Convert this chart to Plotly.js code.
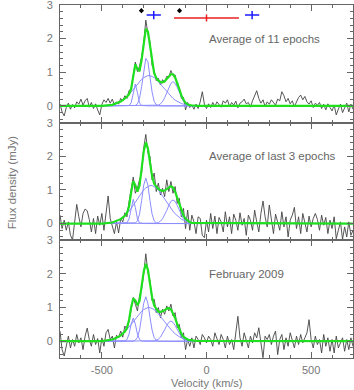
<!DOCTYPE html>
<html>
<head>
<meta charset="utf-8">
<script src="https://cdn.plot.ly/plotly-3.0.1.min.js"></script>
<style>
  html, body { margin: 0; padding: 0; background: #fff; }
  #myGraph { width: 354px; height: 390px; }
</style>
</head>
<body>
<div id="myGraph"></div>
<script>
"use strict";

// channel grid of the spectra (km/s)
var chan0 = -700;
var chanWidth = 10;

// observed spectra (mJy), one value per channel from -700 to +700 km/s
var fluxAll = [
  0.06, -0.18, -0.30, -0.05, 0.08, -0.10, 0.04, -0.06, 0.12, 0.05,
  0.20, 0.02, 0.15, 0.22, -0.04, 0.10, -0.08, 0.06, -0.12, -0.27,
  0.04, 0.18, 0.10, 0.22, 0.08, 0.20, 0.02, 0.12, 0.05, 0.22,
  0.15, 0.30, 0.22, 0.45, 0.52, 0.95, 1.30, 1.02, 1.18, 1.45,
  1.85, 2.55, 2.15, 1.90, 1.20, 1.05, 0.75, 0.82, 0.62, 0.78,
  0.70, 0.88, 0.85, 1.05, 0.90, 0.92, 0.60, 0.55, 0.22, 0.25,
  -0.12, 0.10, -0.05, 0.02, -0.10, 0.05, -0.08, 0.12, 0.42, 0.05,
  -0.08, 0.06, -0.05, 0.10, -0.02, 0.12, 0.05, -0.04, 0.15, 0.08,
  0.18, -0.02, 0.10, 0.02, 0.14, -0.06, 0.08, 0.12, 0.20, 0.06,
  0.10, -0.04, 0.15, 0.28, 0.45, 0.22, 0.08, 0.18, -0.02, 0.12,
  0.05, 0.18, 0.10, 0.02, 0.20, 0.15, 0.42, 0.30, 0.12, 0.22,
  0.06, 0.15, -0.02, 0.10, 0.25, 0.32, 0.18, 0.28, 0.12, 0.05,
  0.15, -0.05, 0.08, 0.02, 0.10, -0.08, 0.05, -0.12, 0.06, -0.05,
  -0.15, 0.02, -0.27, -0.10, 0.05, -0.20, -0.05, 0.08, -0.18, 0.05,
  -0.10
];
var fluxLast3 = [
  0.25, -0.15, 0.10, -0.20, 0.05, -0.35, -0.48, 0.10, 0.57, 0.20,
  -0.10, 0.30, 0.43, 0.38, 0.12, -0.25, 0.15, -0.30, 0.22, -0.05,
  0.30, -0.20, 0.35, 0.82, 0.15, -0.10, -0.30, 0.05, -0.28, 0.15,
  0.05, 0.32, 0.20, 0.65, 1.00, 1.38, 0.90, 1.05, 1.30, 1.50,
  2.25, 2.65, 2.10, 2.00, 1.30, 1.50, 0.95, 1.20, 0.85, 1.05,
  0.80, 1.30, 0.95, 1.25, 0.90, 1.10, 0.60, 0.75, 0.20, 0.45,
  -0.15, 0.40, -0.20, 0.25, 0.05, -0.30, 0.20, 0.15, -0.35, -0.42,
  0.10, -0.25, 0.30, -0.15, 0.22, -0.30, 0.18, 0.05, -0.25, 0.35,
  -0.10, 0.20, -0.30, 0.28, 0.10, -0.20, 0.32, -0.05, 0.15, -0.35,
  0.25, 0.10, -0.20, 0.40, 0.05, -0.25, 0.30, 0.67, 0.20, -0.10,
  0.55, 0.15, -0.30, 0.28, 0.05, -0.20, 0.35, -0.10, 0.20, -0.40,
  0.10, 0.25, 0.48, -0.15, 0.20, -0.30, 0.30, 0.05, -0.25, 0.22,
  -0.10, 0.15, 0.30, 0.12, -0.20, 0.25, -0.05, 0.18, -0.30, 0.10,
  -0.15, 0.20, -0.45, -0.20, 0.05, -0.47, -0.10, -0.40, 0.05, -0.35,
  -0.20
];
var fluxFeb09 = [
  0.30, -0.25, -0.44, -0.10, 0.15, -0.20, 0.05, -0.15, 0.20, -0.05,
  0.10, -0.25, 0.15, 0.39, 0.05, -0.15, 0.20, -0.10, 0.08, -0.35,
  0.10, -0.15, 0.25, 0.35, 0.05, 0.15, -0.20, 0.18, 0.10, 0.30,
  0.12, 0.45, 0.35, 0.60, 0.95, 1.30, 1.10, 0.90, 1.35, 1.55,
  2.00, 2.60, 2.05, 1.80, 1.20, 1.25, 0.85, 1.00, 0.70, 0.95,
  0.80, 1.05, 0.90, 1.10, 0.75, 0.85, 0.40, 0.50, 0.10, 0.25,
  -0.25, 0.05, -0.15, 0.10, -0.20, 0.15, 0.05, -0.10, 0.20, 0.10,
  -0.05, 0.15, 0.05, -0.15, 0.25, 0.10, -0.10, 0.20, 0.05, -0.20,
  0.15, -0.10, 0.05, -0.25, 0.20, 0.74, 0.10, -0.15, 0.25, 0.05,
  -0.20, 0.15, -0.05, 0.25, 0.10, 0.40, -0.10, -0.49, 0.15, 0.05,
  0.20, -0.10, 0.15, 0.30, -0.40, 0.05, 0.20, -0.25, 0.10, -0.15,
  0.25, 0.05, -0.20, 0.15, -0.10, 0.20, -0.05, 0.10, 0.25, 0.64,
  0.05, -0.20, 0.15, -0.10, 0.05, -0.35, 0.20, -0.15, 0.10, -0.30,
  0.05, -0.35, 0.15, -0.20, -0.05, 0.10, -0.30, 0.05, -0.25, 0.10,
  -0.15
];

// velocity grid of the gaussian fits (km/s)
var fitVel = [-700, -500,
  -450, -440, -430, -420, -410, -400, -390, -380, -370, -360,
  -350, -340, -330, -320, -310, -300, -290, -280, -270, -260,
  -250, -240, -230, -220, -210, -200, -190, -180, -170, -160,
  -150, -140, -130, -120, -110, -100, -90, -80, -70, -60,
  -50, 700];

// panel 1: average of 11 epochs, gaussian components and total fit
var allCompL = [null, 0,
  0, 0, 0, 0, 0, 0, 0, 0, 0.01, 0.09,
  0.39, 0.65, 0.39, 0.09, 0.01, 0, 0, 0, 0, 0,
  0, 0, 0, 0, 0, 0, 0, 0, 0, 0,
  0, 0, 0, 0, 0, 0, 0, 0, 0, 0,
  0, 0];
var allCompN = [null, 0,
  0, 0, 0, 0, 0, 0, 0, 0, 0, 0,
  0, 0.01, 0.06, 0.22, 0.57, 1.07, 1.41, 1.31, 0.87, 0.41,
  0.13, 0.03, 0.01, 0, 0, 0, 0, 0, 0, 0,
  0, 0, 0, 0, 0, 0, 0, 0, 0, 0,
  0, 0];
var allCompB = [null, 0,
  0.03, 0.05, 0.07, 0.09, 0.13, 0.17, 0.22, 0.27, 0.34, 0.41,
  0.49, 0.57, 0.65, 0.72, 0.79, 0.84, 0.88, 0.90, 0.90, 0.88,
  0.84, 0.79, 0.72, 0.65, 0.57, 0.49, 0.41, 0.34, 0.27, 0.22,
  0.17, 0.13, 0.09, 0.07, 0.05, 0.03, 0.02, 0.01, 0.01, 0.01,
  0, 0];
var allCompR = [null, 0,
  0, 0, 0, 0, 0, 0, 0, 0, 0, 0,
  0, 0, 0, 0, 0, 0, 0, 0, 0, 0,
  0, 0.01, 0.02, 0.06, 0.13, 0.24, 0.39, 0.55, 0.67, 0.72,
  0.67, 0.55, 0.39, 0.24, 0.13, 0.06, 0.02, 0.01, 0, 0,
  0, 0];
var allFit = [0, 0,
  0.03, 0.05, 0.07, 0.09, 0.13, 0.17, 0.22, 0.27, 0.35, 0.50,
  0.88, 1.23, 1.10, 1.03, 1.37, 1.91, 2.29, 2.21, 1.77, 1.29,
  0.97, 0.83, 0.75, 0.71, 0.70, 0.73, 0.80, 0.89, 0.94, 0.94,
  0.84, 0.68, 0.48, 0.31, 0.18, 0.09, 0.04, 0.02, 0.01, 0.01,
  0, 0];

// panel 2: average of last 3 epochs
var last3CompL = [null, 0,
  0, 0, 0, 0, 0, 0, 0, 0.02, 0.14, 0.48,
  0.72, 0.48, 0.14, 0.02, 0, 0, 0, 0, 0, 0,
  0, 0, 0, 0, 0, 0, 0, 0, 0, 0,
  0, 0, 0, 0, 0, 0, 0, 0, 0, 0,
  0, 0];
var last3CompN = [null, 0,
  0, 0, 0, 0, 0, 0, 0, 0, 0, 0,
  0, 0.02, 0.08, 0.28, 0.68, 1.14, 1.35, 1.14, 0.68, 0.28,
  0.08, 0.02, 0, 0, 0, 0, 0, 0, 0, 0,
  0, 0, 0, 0, 0, 0, 0, 0, 0, 0,
  0, 0];
var last3CompB = [null, 0,
  0.03, 0.05, 0.07, 0.10, 0.13, 0.18, 0.23, 0.29, 0.37, 0.45,
  0.54, 0.64, 0.73, 0.83, 0.92, 1.00, 1.06, 1.10, 1.13, 1.13,
  1.10, 1.06, 1.00, 0.92, 0.83, 0.73, 0.64, 0.54, 0.45, 0.37,
  0.29, 0.23, 0.18, 0.13, 0.10, 0.07, 0.05, 0.03, 0.02, 0.02,
  0.01, 0];
var last3CompR = [null, 0,
  0, 0, 0, 0, 0, 0, 0, 0, 0, 0,
  0, 0, 0, 0, 0, 0, 0, 0, 0, 0,
  0, 0.01, 0.03, 0.07, 0.14, 0.25, 0.39, 0.54, 0.66, 0.70,
  0.66, 0.54, 0.39, 0.25, 0.14, 0.07, 0.03, 0.01, 0, 0,
  0, 0];
var last3Fit = [0, 0,
  0.03, 0.05, 0.07, 0.10, 0.13, 0.18, 0.23, 0.31, 0.51, 0.93,
  1.26, 1.14, 0.95, 1.13, 1.60, 2.14, 2.41, 2.24, 1.81, 1.41,
  1.18, 1.09, 1.03, 0.99, 0.97, 0.98, 1.03, 1.08, 1.11, 1.07,
  0.95, 0.77, 0.57, 0.38, 0.24, 0.14, 0.08, 0.04, 0.02, 0.02,
  0.01, 0];

// panel 3: February 2009
var febCompL = [null, 0,
  0, 0, 0, 0, 0, 0, 0.01, 0.05, 0.21, 0.51,
  0.69, 0.51, 0.21, 0.05, 0.01, 0, 0, 0, 0, 0,
  0, 0, 0, 0, 0, 0, 0, 0, 0, 0,
  0, 0, 0, 0, 0, 0, 0, 0, 0, 0,
  0, 0];
var febCompN = [null, 0,
  0, 0, 0, 0, 0, 0, 0, 0, 0, 0,
  0, 0.03, 0.11, 0.33, 0.71, 1.13, 1.32, 1.13, 0.71, 0.33,
  0.11, 0.03, 0, 0, 0, 0, 0, 0, 0, 0,
  0, 0, 0, 0, 0, 0, 0, 0, 0, 0,
  0, 0];
var febCompB = [null, 0,
  0.05, 0.07, 0.10, 0.13, 0.17, 0.22, 0.28, 0.35, 0.42, 0.50,
  0.58, 0.67, 0.75, 0.82, 0.89, 0.94, 0.98, 1.00, 1.00, 0.98,
  0.94, 0.89, 0.82, 0.75, 0.67, 0.58, 0.50, 0.42, 0.35, 0.28,
  0.22, 0.17, 0.13, 0.10, 0.07, 0.05, 0.04, 0.03, 0.02, 0.01,
  0.01, 0];
var febCompR = [null, 0,
  0, 0, 0, 0, 0, 0, 0, 0, 0, 0,
  0, 0, 0, 0, 0, 0, 0, 0, 0, 0,
  0.01, 0.03, 0.06, 0.12, 0.22, 0.34, 0.47, 0.56, 0.60, 0.56,
  0.47, 0.34, 0.22, 0.12, 0.06, 0.03, 0.01, 0, 0, 0,
  0, 0];
var febFit = [0, 0,
  0.05, 0.07, 0.10, 0.13, 0.17, 0.22, 0.29, 0.40, 0.63, 1.01,
  1.27, 1.21, 1.07, 1.20, 1.61, 2.07, 2.30, 2.13, 1.71, 1.31,
  1.06, 0.95, 0.88, 0.87, 0.89, 0.92, 0.97, 0.98, 0.95, 0.84,
  0.69, 0.51, 0.35, 0.22, 0.13, 0.08, 0.05, 0.03, 0.02, 0.01,
  0.01, 0];

// velocity markers above the top panel
var dotVel = [-311, -129];
var dotFlux = [2.83, 2.83];
var blueVel = [-252, 218];
var blueErr = [34, 34];
var blueFlux = [2.70, 2.70];
var redVel = [0];
var redErr = [155];
var redFlux = [2.61];

// panel labels and ticks
var panelLabels = ['Average of 11 epochs', 'Average of last 3 epochs', 'February 2009'];
var xTickVals = [-500, 0, 500];
var xTickText = ['-500', '0', '500'];

var graphID = 'myGraph';
var fontFam = 'Liberation Sans, Arial, sans-serif';
var gray = '#777';
var frame = '#666';
var compColor = '#8c8cff';
var fitColor = '#1ee01e';

// build one panel
function panelTraces(flux, comps, fit, n) {
    var xa = n === 1 ? 'x' : 'x' + n;
    var ya = n === 1 ? 'y' : 'y' + n;
    var tr = [];
    tr.push({
        y: flux, x0: chan0, dx: chanWidth, type: 'scatter', mode: 'lines',
        line: {color: '#444', width: 0.9},
        xaxis: xa, yaxis: ya, hoverinfo: 'skip'
    });
    for (var i = 0; i < comps.length; i++) {
        tr.push({
            x: fitVel, y: comps[i], type: 'scatter', mode: 'lines',
            line: {color: compColor, width: 1}, connectgaps: false,
            xaxis: xa, yaxis: ya, hoverinfo: 'skip'
        });
    }
    tr.push({
        x: fitVel, y: fit, type: 'scatter', mode: 'lines',
        line: {color: fitColor, width: 2.2},
        xaxis: xa, yaxis: ya, hoverinfo: 'skip'
    });
    return tr;
}

var data = [];
data = data.concat(panelTraces(fluxAll, [allCompL, allCompN, allCompB, allCompR], allFit, 1));
data = data.concat(panelTraces(fluxLast3, [last3CompL, last3CompN, last3CompB, last3CompR], last3Fit, 2));
data = data.concat(panelTraces(fluxFeb09, [febCompL, febCompN, febCompB, febCompR], febFit, 3));

// markers on the top panel
data.push({
    x: redVel, y: redFlux, type: 'scatter', mode: 'markers',
    error_x: {type: 'data', array: redErr, color: '#e82020', thickness: 1.5, width: 0},
    marker: {symbol: 'line-ns', size: 5, line: {color: '#e82020', width: 1.5}},
    xaxis: 'x', yaxis: 'y', hoverinfo: 'skip'
});
data.push({
    x: blueVel, y: blueFlux, type: 'scatter', mode: 'markers',
    error_x: {type: 'data', array: blueErr, color: '#1a1aff', thickness: 1.5, width: 0},
    marker: {symbol: 'line-ns', size: 6, line: {color: '#1a1aff', width: 1.5}},
    xaxis: 'x', yaxis: 'y', hoverinfo: 'skip'
});
data.push({
    x: dotVel, y: dotFlux, type: 'scatter', mode: 'markers',
    marker: {symbol: 'diamond', size: 4, color: '#000'},
    xaxis: 'x', yaxis: 'y', hoverinfo: 'skip'
});

var tickFont = {family: fontFam, size: 11, color: gray};

function xAxis(n, showLabels) {
    return {
        anchor: n === 1 ? 'y' : 'y' + n,
        range: [-700, 700], tickmode: 'array', tickvals: xTickVals, ticktext: xTickText,
        showticklabels: showLabels, ticks: 'inside', ticklen: 6, tickcolor: frame, tickwidth: 1,
        minor: {dtick: 100, tick0: 0, ticks: 'inside', ticklen: 3, tickcolor: frame, tickwidth: 1},
        showline: true, linecolor: frame, linewidth: 1, mirror: 'allticks',
        showgrid: false, zeroline: false, tickfont: tickFont, ticklabelstandoff: 2,
        fixedrange: true
    };
}

function yAxis(n, dom) {
    return {
        anchor: n === 1 ? 'x' : 'x' + n, domain: dom,
        range: [-0.5, 3], tick0: 0, dtick: 1,
        ticks: 'inside', ticklen: 6, tickcolor: frame, tickwidth: 1,
        minor: {dtick: 0.2, tick0: 0, ticks: 'inside', ticklen: 3, tickcolor: frame, tickwidth: 1},
        showline: true, linecolor: frame, linewidth: 1, mirror: 'allticks',
        showgrid: false, zeroline: false, tickfont: tickFont, ticklabelstandoff: 4,
        ticklabeloverflow: 'allow', fixedrange: true
    };
}

var annots = [];
for (var k = 0; k < panelLabels.length; k++) {
    annots.push({
        text: panelLabels[k], x: 0, y: 2, xanchor: 'left', yanchor: 'middle',
        xref: k === 0 ? 'x' : 'x' + (k + 1), yref: k === 0 ? 'y' : 'y' + (k + 1),
        showarrow: false, font: {family: fontFam, size: 11.5, color: '#666'}
    });
}
annots.push({
    text: 'Flux density (mJy)', textangle: -90, xref: 'paper', yref: 'paper',
    x: -0.165, y: 0.497, xanchor: 'center', yanchor: 'middle', showarrow: false,
    font: {family: fontFam, size: 11.5, color: gray}
});
annots.push({
    text: 'Velocity (km/s)', xref: 'paper', yref: 'paper',
    x: 0.5, y: -0.0715, xanchor: 'center', yanchor: 'middle', showarrow: false,
    font: {family: fontFam, size: 11, color: gray}
});

var layout = {
    width: 354, height: 390,
    margin: {l: 60, r: 1, t: 5, b: 32},
    paper_bgcolor: '#fff', plot_bgcolor: '#fff',
    showlegend: false,
    xaxis: xAxis(1, false),
    xaxis2: xAxis(2, false),
    xaxis3: xAxis(3, true),
    yaxis: yAxis(1, [0.6667, 1]),
    yaxis2: yAxis(2, [0.3333, 0.6667]),
    yaxis3: yAxis(3, [0, 0.3333]),
    annotations: annots
};

Plotly.newPlot(graphID, data, layout, {staticPlot: true, displayModeBar: false});
</script>
</body>
</html>
